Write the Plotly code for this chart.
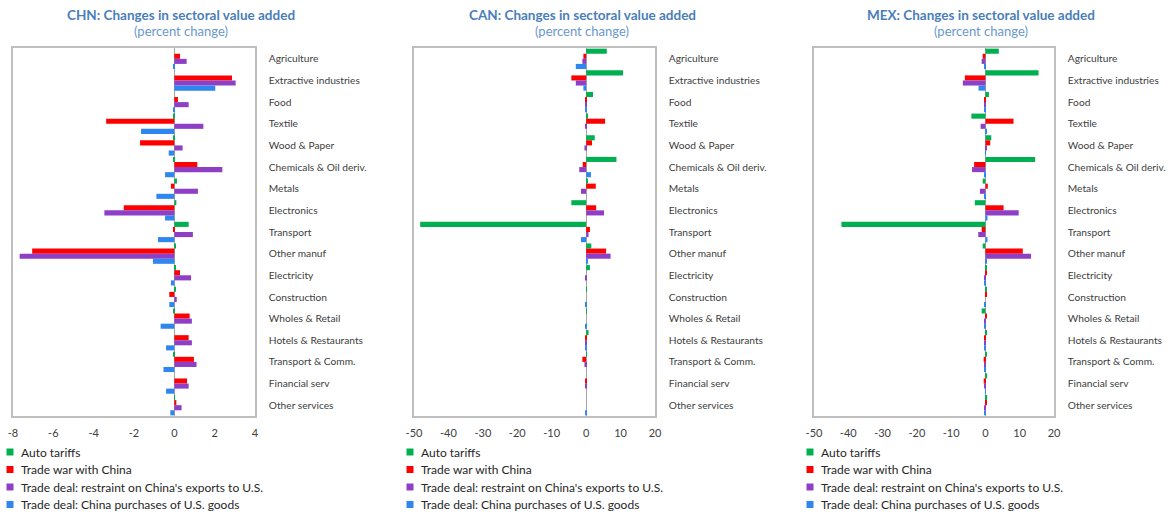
import plotly.graph_objects as go

W, H = 1173, 518

sectors = ["Agriculture", "Extractive industries", "Food", "Textile", "Wood & Paper",
           "Chemicals & Oil deriv.", "Metals", "Electronics", "Transport", "Other manuf",
           "Electricity", "Construction", "Wholes & Retail", "Hotels & Restaurants",
           "Transport & Comm.", "Financial serv", "Other services"]

series_names = ["Auto tariffs", "Trade war with China",
                "Trade deal: restraint on China's exports to U.S.",
                "Trade deal: China purchases of U.S. goods"]
series_colors = ["#00B050", "#FF0000", "#8E3FC6", "#2F86EE"]

# CHN
chn_auto = [0.0, 0.0, 0.0, -0.05, -0.05, -0.05, 0.13, 0.10, 0.71, 0.07, 0.05, 0.05, -0.05, 0.0, -0.05, 0.0, 0.02]
chn_war = [0.28, 2.86, 0.18, -3.38, -1.70, 1.14, -0.17, -2.51, -0.07, -7.05, 0.28, -0.25, 0.76, 0.71, 0.97, 0.63, 0.10]
chn_restraint = [0.61, 3.04, 0.71, 1.44, 0.41, 2.38, 1.17, -3.47, 0.92, -7.67, 0.83, 0.12, 0.87, 0.87, 1.10, 0.71, 0.36]
chn_purchases = [-0.05, 2.03, -0.05, -1.65, -0.28, -0.46, -0.89, -0.46, -0.81, -1.06, -0.17, -0.25, -0.68, -0.41, -0.54, -0.41, -0.20]

# CAN
can_auto = [6.0, 10.7, 2.0, 0.3, 2.5, 8.8, 0.3, -4.3, -48.2, 1.5, 1.1, 0.1, 0.1, 0.7, 0.1, 0.0, 0.0]
can_war = [-0.8, -4.3, -0.2, 5.5, 1.7, -1.0, 2.8, 2.9, 1.1, 5.8, 0.0, 0.0, 0.0, -0.3, -1.1, -0.3, 0.0]
can_restraint = [-1.1, -3.0, -0.2, -0.2, -0.5, -2.0, -1.5, 5.2, 0.7, 7.1, -0.3, 0.0, 0.0, -0.2, -0.5, -0.3, 0.0]
can_purchases = [-3.0, -0.8, -0.2, 0.0, 0.0, 1.4, 0.0, 0.0, -1.5, 0.3, 0.0, -0.2, -0.2, -0.2, 0.0, 0.0, -0.3]

# MEX
mex_auto = [3.9, 15.5, 1.0, -4.1, 1.7, 14.5, -0.8, -3.1, -42.0, -0.8, 0.2, 0.2, -1.1, 0.2, 0.2, 0.5, 0.5]
mex_war = [-0.8, -6.0, -0.4, 8.2, 1.4, -3.3, 0.7, 5.3, -1.1, 10.9, 0.3, 0.3, 0.3, -0.4, -0.5, -0.5, 0.3]
mex_restraint = [-1.1, -6.6, -0.2, -1.4, 0.2, -3.9, -1.6, 9.7, -2.1, 13.3, -0.4, 0.0, -0.4, -0.3, -0.4, -0.3, -0.4]
mex_purchases = [-0.3, -2.0, -0.2, 0.2, 0.1, -0.3, -0.3, 0.6, 0.6, 0.4, -0.2, -0.3, -0.2, -0.3, -0.3, 0.1, -0.3]

panels = [
    ("CHN", [chn_auto, chn_war, chn_restraint, chn_purchases], [-8, 4], [-8, -6, -4, -2, 0, 2, 4], (13, 255), 181, 19),
    ("CAN", [can_auto, can_war, can_restraint, can_purchases], [-50, 20], [-50, -40, -30, -20, -10, 0, 10, 20], (414, 655), 582, 419),
    ("MEX", [mex_auto, mex_war, mex_restraint, mex_purchases], [-50, 20], [-50, -40, -30, -20, -10, 0, 10, 20], (814, 1054), 981, 819),
]

FONT = "Lato, 'Open Sans', sans-serif"
box_top, box_bot = 48, 416
leg_rows = [452, 469.5, 487, 504.5]

fig = go.Figure()
annotations = []
shapes = []
layout = {}
for i, (code, series, rng, ticks, (x0, x1), tcx, legx) in enumerate(panels):
    n = "" if i == 0 else str(i + 1)
    for name, vals, col in zip(series_names, series, series_colors):
        fig.add_trace(go.Bar(
            x=vals, y=sectors, orientation="h", name=name,
            marker=dict(color=col, line=dict(width=0)),
            xaxis="x" + n, yaxis="y" + n, showlegend=False,
        ))
    layout["xaxis" + n] = dict(
        domain=[x0 / W, x1 / W], range=rng, tickvals=ticks,
        ticktext=[str(t) for t in ticks], anchor="y" + n,
        showgrid=False, zeroline=True, zerolinecolor="#A6A6A6", zerolinewidth=1,
        showline=True, linecolor="#BFBFBF", linewidth=1.5, mirror=True,
        ticks="", tickfont=dict(size=11, color="#404040", family=FONT),
        ticklabelstandoff=6, automargin=False, fixedrange=True,
    )
    layout["yaxis" + n] = dict(
        domain=[1 - box_bot / H, 1 - box_top / H], anchor="x" + n,
        categoryorder="array", categoryarray=sectors, autorange="reversed",
        side="right", showgrid=False, showline=True, linecolor="#BFBFBF",
        linewidth=1.5, mirror=True, ticks="",
        tickfont=dict(size=10.2, color="#404040", family=FONT),
        ticklabelstandoff=10, automargin=False, fixedrange=True,
    )
    # legend (one per panel), built from the series names and colours
    for name, col, yc in zip(series_names, series_colors, leg_rows):
        shapes.append(dict(
            type="rect", xref="paper", yref="paper",
            x0=(legx - 12.5) / W, x1=(legx - 5.5) / W,
            y0=1 - (yc + 3.5) / H, y1=1 - (yc - 3.5) / H,
            fillcolor=col, line=dict(width=0),
        ))
        annotations.append(dict(
            text=name, x=legx / W, y=1 - yc / H, xref="paper", yref="paper",
            xanchor="left", yanchor="middle", showarrow=False,
            font=dict(size=12, color="#262626", family=FONT),
        ))
    annotations.append(dict(
        text="<b>%s: Changes in sectoral value added</b>" % code,
        x=tcx / W, y=1 - 15 / H, xref="paper", yref="paper",
        xanchor="center", yanchor="middle",
        showarrow=False, font=dict(size=13.5, color="#4A7EBB", family=FONT),
    ))
    annotations.append(dict(
        text="(percent change)",
        x=tcx / W, y=1 - 31 / H, xref="paper", yref="paper",
        xanchor="center", yanchor="middle",
        showarrow=False, font=dict(size=13, color="#6A98CC", family=FONT),
    ))

fig.update_layout(
    width=W, height=H, margin=dict(l=0, r=0, t=0, b=0, autoexpand=False),
    paper_bgcolor="white", plot_bgcolor="white",
    barmode="group", bargap=0.06, bargroupgap=0,
    annotations=annotations, shapes=shapes, showlegend=False,
    **layout,
)
fig.write_html("out.html", config={"displayModeBar": False},
               post_script="document.body.style.margin='0';")
